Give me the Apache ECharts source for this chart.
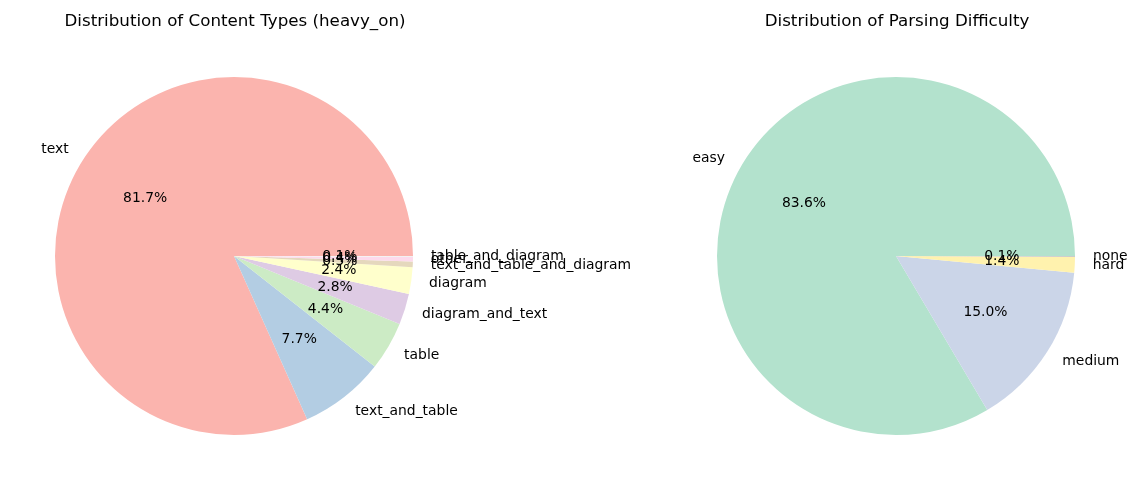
<!DOCTYPE html>
<html>
<head>
<meta charset="utf-8">
<title>Content types and parsing difficulty</title>
<script src="https://cdn.jsdelivr.net/npm/echarts@6/dist/echarts.min.js"></script>
<style>
  html, body { margin: 0; padding: 0; background: #fff; }
  #main { width: 1138px; height: 490px; }
</style>
</head>
<body>
<div id="main"></div>
<script>
// left pie: content types (percent)
var contentTypes = ['text', 'text_and_table', 'table', 'diagram_and_text', 'diagram',
  'text_and_table_and_diagram', 'other', 'table_and_diagram'];
var contentShares = [81.7, 7.7, 4.4, 2.8, 2.4, 0.5, 0.4, 0.1];
var contentColors = ['#fbb4ae', '#b3cde3', '#ccebc5', '#decbe4', '#ffffcc', '#e5d8bd', '#fddaec', '#f2f2f2'];

// right pie: parsing difficulty (percent)
var difficulties = ['easy', 'medium', 'hard', 'none'];
var difficultyShares = [83.6, 15.0, 1.4, 0.1];
var difficultyColors = ['#b3e2cd', '#cbd5e8', '#fff2ae', '#cccccc'];

var FONT = 'DejaVu Sans';
var R = 179;

function toData(names, values, colors) {
  return names.map(function (n, i) {
    return { name: n, value: values[i], itemStyle: { color: colors[i] } };
  });
}

// one visible pie with outer names + one transparent ring for the percent labels
function pieSeries(center, names, values, colors) {
  var data = toData(names, values, colors);
  return [
    {
      type: 'pie',
      center: center,
      radius: [0, R],
      startAngle: 0,
      clockwise: false,
      avoidLabelOverlap: false,
      silent: true,
      data: data,
      label: {
        show: true,
        position: 'outside',
        formatter: '{b}',
        color: '#000',
        fontFamily: FONT,
        fontSize: 13.9,
        distanceToLabelLine: 0
      },
      labelLine: { show: false, length: R * 0.1, length2: 0 },
      labelLayout: { hideOverlap: false },
      emphasis: { disabled: true }
    },
    {
      type: 'pie',
      center: center,
      radius: [R * 0.15, R],
      startAngle: 0,
      clockwise: false,
      avoidLabelOverlap: false,
      silent: true,
      data: data.map(function (d) {
        return { name: d.name, value: d.value, itemStyle: { color: 'rgba(0,0,0,0)' } };
      }),
      label: {
        show: true,
        position: 'inside',
        formatter: function (p) { return p.value.toFixed(1) + '%'; },
        color: '#000',
        fontFamily: FONT,
        fontSize: 13.9
      },
      labelLine: { show: false },
      labelLayout: { hideOverlap: false },
      emphasis: { disabled: true }
    }
  ];
}

var chart = echarts.init(document.getElementById('main'));
chart.setOption({
  animation: false,
  title: [
    {
      text: 'Distribution of Content Types (heavy_on)',
      left: 230, top: 8, textAlign: 'center',
      textStyle: { fontFamily: FONT, fontSize: 16.7, fontWeight: 'normal', color: '#000' }
    },
    {
      text: 'Distribution of Parsing Difficulty',
      left: 892, top: 8, textAlign: 'center',
      textStyle: { fontFamily: FONT, fontSize: 16.7, fontWeight: 'normal', color: '#000' }
    }
  ],
  series: pieSeries([234, 256], contentTypes, contentShares, contentColors)
    .concat(pieSeries([896, 256], difficulties, difficultyShares, difficultyColors))
});
</script>
</body>
</html>
